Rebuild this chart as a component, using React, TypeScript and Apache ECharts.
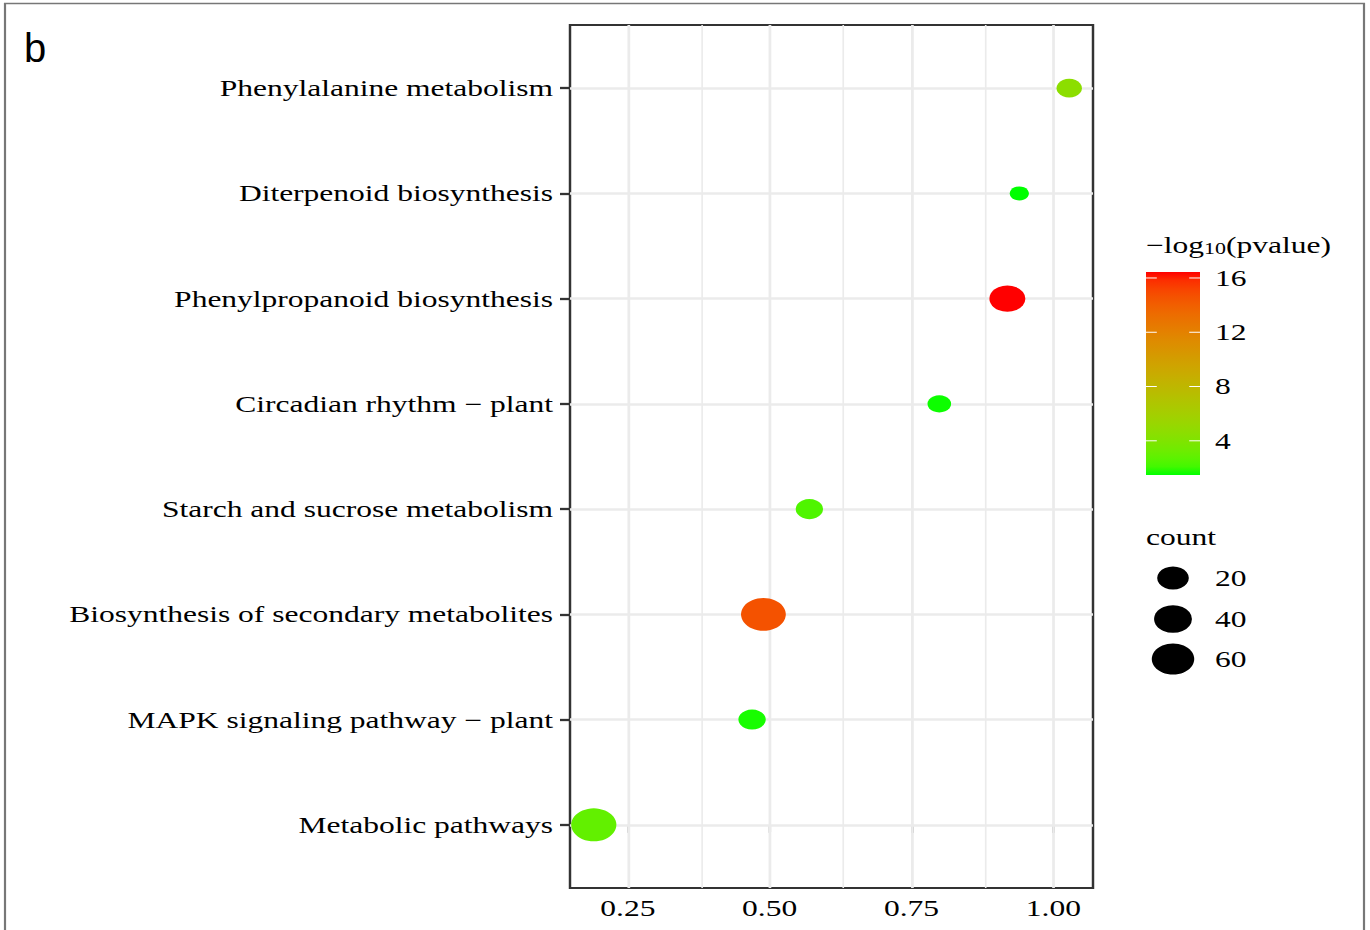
import React, { useEffect, useRef } from "react";
import * as echarts from "echarts";

// ---------------- data ----------------
const categories = [
  "Metabolic pathways",
  "MAPK signaling pathway \u2212 plant",
  "Biosynthesis of secondary metabolites",
  "Starch and sucrose metabolism",
  "Circadian rhythm \u2212 plant",
  "Phenylpropanoid biosynthesis",
  "Diterpenoid biosynthesis",
  "Phenylalanine metabolism",
];
const richFactor = [0.19, 0.469, 0.489, 0.57, 0.799, 0.919, 0.94, 1.028];
const negLog10P = [2.9, 1.7, 14.6, 2.4, 1.6, 16.44, 1.48, 4.6];
const counts = [74, 11, 72, 11, 6, 33, 4, 8];
const xBreaks = [0.25, 0.5, 0.75, 1.0];
const colorBreaks = [4, 8, 12, 16];
const sizeBreaks = [20, 40, 60];

// ---------------- layout constants ----------------
const S = 1.37; // horizontal stretch of the picture
const W = 1370 / S;
const H = 930;
const FONT = "'Liberation Serif', 'Times New Roman', serif";
const FS = 23;

// ---------------- helpers ----------------
function toLin(c: number) {
  c /= 255;
  return c <= 0.04045 ? c / 12.92 : Math.pow((c + 0.055) / 1.055, 2.4);
}
function fromLin(c: number) {
  const v = c <= 0.0031308 ? 12.92 * c : 1.055 * Math.pow(c, 1 / 2.4) - 0.055;
  return Math.round(Math.max(0, Math.min(1, v)) * 255);
}
const XN = 0.95047, YN = 1, ZN = 1.08883;
function f(t: number) {
  return t > 0.008856 ? Math.cbrt(t) : 7.787 * t + 16 / 116;
}
function finv(t: number) {
  return t > 0.206893 ? t * t * t : (t - 16 / 116) / 7.787;
}
function rgbToLab(rgb: number[]) {
  const R = toLin(rgb[0]), G = toLin(rgb[1]), B = toLin(rgb[2]);
  const X = 0.4124 * R + 0.3576 * G + 0.1805 * B;
  const Y = 0.2126 * R + 0.7152 * G + 0.0722 * B;
  const Z = 0.0193 * R + 0.1192 * G + 0.9505 * B;
  const fy = f(Y / YN);
  return [116 * fy - 16, 500 * (f(X / XN) - fy), 200 * (fy - f(Z / ZN))];
}
function labToHex(lab: number[]) {
  const fy = (lab[0] + 16) / 116;
  const fx = fy + lab[1] / 500;
  const fz = fy - lab[2] / 200;
  const X = XN * finv(fx), Y = YN * finv(fy), Z = ZN * finv(fz);
  const R = 3.2406 * X - 1.5372 * Y - 0.4986 * Z;
  const G = -0.9689 * X + 1.8758 * Y + 0.0415 * Z;
  const B = 0.0557 * X - 0.204 * Y + 1.057 * Z;
  const h = (n: number) => n.toString(16).padStart(2, "0");
  return "#" + h(fromLin(R)) + h(fromLin(G)) + h(fromLin(B));
}
const LOW = rgbToLab([0, 255, 0]);
const HIGH = rgbToLab([255, 0, 0]);
const gradStops: string[] = [];
for (let i = 0; i <= 24; i++) {
  const t = i / 24;
  gradStops.push(labToHex([0, 1, 2].map((k) => LOW[k] + (HIGH[k] - LOW[k]) * t)));
}

const cMin = Math.min(...counts);
const cMax = Math.max(...counts);
function diam(c: number) {
  const t = Math.max(0, (c - cMin) / (cMax - cMin));
  return 14 + 19 * Math.sqrt(t);
}

const vMin = Math.min(...negLog10P);
const vMax = Math.max(...negLog10P);
const xLo = Math.min(...richFactor);
const xHi = Math.max(...richFactor);
const xPad = (xHi - xLo) * 0.05;

// ---------------- component ----------------
export default function App() {
  const ref = useRef<HTMLDivElement>(null);

  useEffect(() => {
    if (!ref.current) return;
    const chart = echarts.init(ref.current, null, { renderer: "svg" });

    const gridLeft = 570 / S;
    const gridRight = W - 1093 / S;
    const gridTop = 25;
    const gridBottom = H - 888;

    // colour bar geometry
    const cbX = 1146 / S;
    const cbW = 1200 / S - cbX;
    const cbTop = 272;
    const cbBot = 475;
    const cbH = cbBot - cbTop;
    const labX = 1215 / S;
    const valToY = (v: number) => cbBot - ((v - vMin) / (vMax - vMin)) * cbH;

    const graphics: any[] = [
      {
        type: "rect",
        shape: { x: 5 / S, y: 3.5, width: (1364 - 5) / S, height: 960 },
        style: { fill: "none", stroke: "#777", lineWidth: 1.6 },
        silent: true,
        z: -10,
      },
      {
        type: "text",
        x: 24 / S,
        y: 28,
        scaleX: 1 / S,
        style: {
          text: "b",
          fontSize: 40,
          fontFamily: "'Liberation Sans', Arial, sans-serif",
          fill: "#000",
          verticalAlign: "top",
          align: "left",
        },
      },
      {
        type: "text",
        x: cbX,
        y: 245,
        style: {
          text: "{a|\u2212log}{s|10}{a|(pvalue)}",
          verticalAlign: "middle",
          align: "left",
          rich: {
            a: { fontSize: FS, fontFamily: FONT, fill: "#000", lineHeight: 24, verticalAlign: "bottom" },
            s: { fontSize: 16, fontFamily: FONT, fill: "#000", lineHeight: 10, verticalAlign: "bottom" },
          },
        },
      },
      {
        type: "rect",
        shape: { x: cbX, y: cbTop, width: cbW, height: cbH },
        style: {
          fill: new echarts.graphic.LinearGradient(
            0, 1, 0, 0,
            gradStops.map((c, i) => ({ offset: i / (gradStops.length - 1), color: c }))
          ),
        },
      },
      {
        type: "text",
        x: cbX,
        y: 537,
        style: { text: "count", fontSize: FS, fontFamily: FONT, fill: "#000", verticalAlign: "middle" },
      },
    ];
    colorBreaks.forEach((v) => {
      const y = valToY(v);
      graphics.push(
        { type: "line", shape: { x1: cbX, y1: y, x2: cbX + cbW * 0.2, y2: y }, style: { stroke: "#fff", lineWidth: 1 } },
        { type: "line", shape: { x1: cbX + cbW * 0.8, y1: y, x2: cbX + cbW, y2: y }, style: { stroke: "#fff", lineWidth: 1 } },
        {
          type: "text",
          x: labX,
          y,
          style: { text: String(v), fontSize: FS, fontFamily: FONT, fill: "#000", verticalAlign: "middle" },
        }
      );
    });
    const sizeYs = [578, 619, 659];
    sizeBreaks.forEach((c, i) => {
      graphics.push(
        { type: "circle", shape: { cx: 1173 / S, cy: sizeYs[i], r: diam(c) / 2 }, style: { fill: "#000" } },
        {
          type: "text",
          x: labX,
          y: sizeYs[i],
          style: { text: String(c), fontSize: FS, fontFamily: FONT, fill: "#000", verticalAlign: "middle" },
        }
      );
    });

    const minorX: number[] = [];
    for (let i = 0; i < xBreaks.length - 1; i++) minorX.push((xBreaks[i] + xBreaks[i + 1]) / 2);

    const gridLineData: any[] = [
      ...minorX.map((v) => ({ xAxis: v, lineStyle: { color: "#EBEBEB", width: 1.2, type: "solid" } })),
      ...xBreaks.map((v) => ({ xAxis: v, lineStyle: { color: "#EBEBEB", width: 2.0, type: "solid" } })),
      ...categories.map((_, i) => ({ yAxis: i, lineStyle: { color: "#EBEBEB", width: 2.6, type: "solid" } })),
    ];

    const option: any = {
      animation: false,
      backgroundColor: "#fff",
      grid: {
        left: gridLeft,
        right: gridRight,
        top: gridTop,
        bottom: gridBottom,
        show: true,
        borderColor: "#333",
        borderWidth: 1.8,
        backgroundColor: "#fff",
        z: 0,
      },
      xAxis: {
        type: "value",
        min: xLo - xPad,
        max: xHi + xPad,
        axisLine: { show: false },
        splitLine: { show: false },
        axisTick: {
          show: true,
          length: 8,
          customValues: xBreaks,
          lineStyle: { color: "#333", width: 1.6 },
        },
        axisLabel: {
          customValues: xBreaks,
          formatter: (v: number) => v.toFixed(2),
          fontSize: FS,
          fontFamily: FONT,
          color: "#000",
          margin: 8.5,
        },
      },
      yAxis: {
        type: "value",
        min: -0.6,
        max: categories.length - 1 + 0.6,
        axisLine: { show: false },
        splitLine: { show: false },
        axisTick: {
          show: true,
          length: 7.3,
          customValues: categories.map((_, i) => i),
          lineStyle: { color: "#333", width: 2.3 },
        },
        axisLabel: {
          customValues: categories.map((_, i) => i),
          formatter: (v: number) => categories[Math.round(v)] ?? "",
          fontSize: FS,
          fontFamily: FONT,
          color: "#000",
          margin: 12.4,
        },
      },
      visualMap: {
        show: false,
        type: "continuous",
        seriesIndex: 1,
        dimension: 2,
        min: vMin,
        max: vMax,
        inRange: { color: gradStops },
      },
      series: [
        {
          type: "scatter",
          data: [],
          silent: true,
          z: 1,
          markLine: {
            silent: true,
            symbol: ["none", "none"],
            label: { show: false },
            z: 1,
            animation: false,
            data: gridLineData,
          },
        },
        {
          type: "scatter",
          z: 10,
          data: categories.map((_, i) => [richFactor[i], i, negLog10P[i], counts[i]]),
          symbol: "circle",
          symbolSize: (d: number[]) => diam(d[3]),
          itemStyle: { opacity: 1 },
        },
      ],
      graphic: graphics,
    };

    chart.setOption(option);
    return () => chart.dispose();
  }, []);

  return (
    <div
      style={{
        position: "fixed",
        left: 0,
        top: 0,
        width: W,
        height: H,
        transform: `scaleX(${S})`,
        transformOrigin: "0 0",
        background: "#fff",
      }}
    >
      <div ref={ref} style={{ width: W, height: H }} />
    </div>
  );
}
